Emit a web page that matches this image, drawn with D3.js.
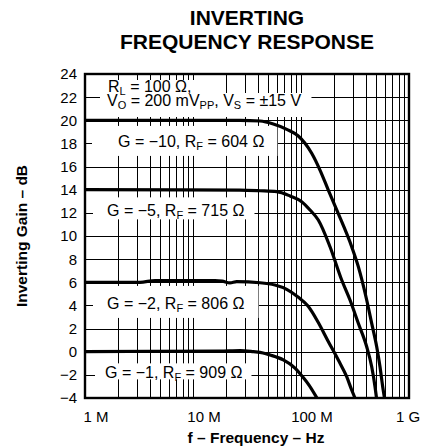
<!DOCTYPE html>
<html><head><meta charset="utf-8">
<script src="https://cdn.jsdelivr.net/npm/d3@7/dist/d3.min.js"></script>
<style>
body{margin:0;background:#fff}
svg{display:block}
text{font-family:"Liberation Sans",Arial,Helvetica,sans-serif;fill:#000}
</style>
</head><body>
<svg id="c" width="429" height="446"></svg>
<script>
// ---------- data ----------
const titleLines = ["INVERTING", "FREQUENCY RESPONSE"];
const xAxisTitle = "f – Frequency – Hz";
const yAxisTitle = "Inverting Gain – dB";
const freqTicks = [1, 10, 100, 1000];            // MHz
const freqTickLabels = ["1 M", "10 M", "100 M", "1 G"];
const gainTicks = [-4, -2, 0, 2, 4, 6, 8, 10, 12, 14, 16, 18, 20, 22, 24];
const gainTickLabels = ["−4", "−2", "0", "2", "4", "6", "8", "10", "12", "14", "16", "18", "20", "22", "24"];

// curve data: frequency in MHz, gain in dB
const freqG10 = [1, 27.2, 41.7, 55.4, 73.8, 94.4, 108.9, 125.6, 149.9, 179.0, 214.1, 294.7, 339.4, 405.8, 451.5, 502.3, 538.9, 570.8, 593.0];
const gainG10 = [20, 20.0, 19.94, 19.68, 19.22, 18.64, 18.01, 17.15, 15.70, 13.97, 12.25, 9.07, 7.35, 4.47, 2.45, 0.43, -1.30, -3.02, -4.0];

const freqG5 = [1, 27.2, 41.7, 59.6, 79.1, 101.5, 121.2, 144.6, 185.6, 238.2, 284.3, 339.4, 405.8, 451.5, 484.6, 500.2];
const gainG5 = [14, 13.97, 13.91, 13.83, 13.46, 12.97, 12.25, 11.38, 9.07, 6.20, 4.47, 2.46, 0.43, -1.30, -3.02, -4.0];

const freqG2 = [1, 3.23, 4.45, 16.0, 18.6, 22.0, 25.4, 41.7, 57.4, 73.7, 93.8, 116.1, 143.7, 177.8, 221.5, 264.9, 294.7, 316.2];
const gainG2 = [6.0, 6.0, 6.15, 6.15, 6.1, 5.95, 6.05, 5.96, 5.76, 5.39, 4.73, 3.95, 2.57, 0.93, -0.72, -2.16, -3.31, -4.0];

const freqG1 = [1, 17.8, 27.2, 36.2, 44.5, 51.6, 68.6, 88.0, 102.2, 118.6, 140.6];
const gainG1 = [0.0, 0.06, 0.1, 0.0, -0.11, -0.28, -0.71, -1.41, -2.10, -2.88, -4.0];

const seriesFreqs = [freqG10, freqG5, freqG2, freqG1];
const seriesGains = [gainG10, gainG5, gainG2, gainG1];

// series labels ([text, isSubscript] segments) and the gain gridline each sits on
const seriesLabels = [
  [["G = −10, R", 0], ["F", 1], [" = 604 Ω", 0]],
  [["G = −5, R", 0], ["F", 1], [" = 715 Ω", 0]],
  [["G = −2, R", 0], ["F", 1], [" = 806 Ω", 0]],
  [["G = −1, R", 0], ["F", 1], [" = 909 Ω", 0]]
];
const seriesLabelGains = [18, 12, 4, -2];
const conditionLines = [
  [["R", 0], ["L", 1], [" = 100 Ω,", 0]],
  [["V", 0], ["O", 1], [" = 200 mV", 0], ["PP", 1], [", V", 0], ["S", 1], [" = ±15 V", 0]]
];

// ---------- drawing ----------
const svg = d3.select("#c");
const L = 85, R = 409, T = 74, B = 398;
const x = d3.scaleLog().domain([1, 1000]).range([L, R]);
const y = d3.scaleLinear().domain([-4, 24]).range([B, T]);
const px = v => Math.round(v) + 0.5;

// grid
const grid = svg.append("g").attr("stroke", "#000").attr("stroke-width", 1).attr("shape-rendering", "crispEdges");
grid.selectAll("line.v").data(x.ticks()).join("line")
  .attr("x1", d => px(x(d))).attr("x2", d => px(x(d))).attr("y1", T).attr("y2", B);
grid.selectAll("line.h").data(gainTicks).join("line")
  .attr("y1", d => px(y(d))).attr("y2", d => px(y(d))).attr("x1", L).attr("x2", R);

const fs = 16, sfs = 11, subDy = 3;
// append segments to a text element, starting a line at (xpos, ypos)
function addSegs(t, segs, xpos, ypos) {
  let shifted = false, first = true;
  segs.forEach(([s, sub]) => {
    const ts = t.append("tspan").text(s);
    if (first) { ts.attr("x", xpos).attr("y", ypos + (sub ? subDy : 0)); first = false; if (sub) shifted = true; }
    else if (sub && !shifted) { ts.attr("dy", subDy); shifted = true; }
    else if (!sub && shifted) { ts.attr("dy", -subDy); shifted = false; }
    if (sub) ts.style("font-size", sfs + "px");
  });
}
function measure(segs) {
  const t = svg.append("text").style("font-size", fs + "px");
  addSegs(t, segs, 0, 0);
  const w = t.node().getBBox().width;
  t.remove();
  return w;
}

const boxLayer = svg.append("g");
const textLayer = svg.append("g");
const labelLayout = [
  {tx: 118, padL: 26, padR: 13, top: -15, bot: 15},
  {tx: 107, padL: 14, padR: 10, top: -13, bot: 9},
  {tx: 107, padL: 14, padR: 14, top: -17, bot: 15},
  {tx: 105, padL: 10, padR: 9, top: -9, bot: 7}
];
seriesLabels.forEach((segs, i) => {
  const lay = labelLayout[i];
  const cy = y(seriesLabelGains[i]) - 2.5;
  const w = measure(segs);
  const t = textLayer.append("text").style("font-size", fs + "px");
  addSegs(t, segs, lay.tx, cy + fs * 0.36);
  boxLayer.append("rect").attr("x", lay.tx - lay.padL).attr("width", w + lay.padL + lay.padR)
    .attr("y", cy + lay.top).attr("height", lay.bot - lay.top).attr("fill", "#fff");
});
// condition text (one text element, two lines)
const w1 = measure(conditionLines[0]), w2 = measure(conditionLines[1]);
const ct = textLayer.append("text").style("font-size", fs + "px");
addSegs(ct, conditionLines[0], 108, 91.5);
addSegs(ct, conditionLines[1], 107, 105.5);
boxLayer.append("rect").attr("x", 100).attr("y", 80).attr("width", 108 + w1 + 6 - 100).attr("height", 14).attr("fill", "#fff");
boxLayer.append("rect").attr("x", 100).attr("y", 93).attr("width", 107 + w2 + 10 - 100).attr("height", 24).attr("fill", "#fff");

// curves
svg.append("clipPath").attr("id", "clip").append("rect").attr("x", L).attr("y", T).attr("width", R - L).attr("height", B - T);
const line = d3.line().x(d => x(d[0])).y(d => y(d[1])).curve(d3.curveMonotoneX);
const curves = svg.append("g").attr("clip-path", "url(#clip)");
seriesFreqs.forEach((fArr, i) => {
  const pts = fArr.map((f, j) => [f, seriesGains[i][j]]);
  curves.append("path").attr("d", line(pts)).attr("fill", "none").attr("stroke", "#000")
    .attr("stroke-width", 3.2).attr("stroke-linejoin", "round");
});

// frame
svg.append("rect").attr("x", L).attr("y", T).attr("width", R - L).attr("height", B - T)
  .attr("fill", "none").attr("stroke", "#000").attr("stroke-width", 2.4);

// bring text to front
svg.node().appendChild(textLayer.node());

// y tick labels
svg.append("g").selectAll("text").data(gainTicks).join("text")
  .attr("x", 77).attr("y", d => y(d)).attr("dy", "0.36em").attr("text-anchor", "end")
  .style("font-size", "15px").text((d, i) => gainTickLabels[i]);
// x tick labels
svg.append("g").selectAll("text").data(freqTicks).join("text")
  .attr("x", (d, i) => x(d) + (i < freqTicks.length - 1 ? 11 : -1)).attr("y", 422)
  .attr("text-anchor", "middle").style("font-size", "15px").text((d, i) => freqTickLabels[i]);

// titles
svg.append("g").selectAll("text").data(titleLines).join("text")
  .attr("x", 247).attr("y", (d, i) => 25 + i * 24).attr("text-anchor", "middle")
  .style("font-size", "21px").style("font-weight", "bold").text(d => d);
svg.append("text").attr("x", 256).attr("y", 443).attr("text-anchor", "middle")
  .style("font-size", "15.5px").style("font-weight", "bold").text(xAxisTitle);
svg.append("text").attr("transform", "translate(27,236) rotate(-90)").attr("text-anchor", "middle")
  .style("font-size", "15.5px").style("font-weight", "bold").text(yAxisTitle);
</script>
</body></html>
